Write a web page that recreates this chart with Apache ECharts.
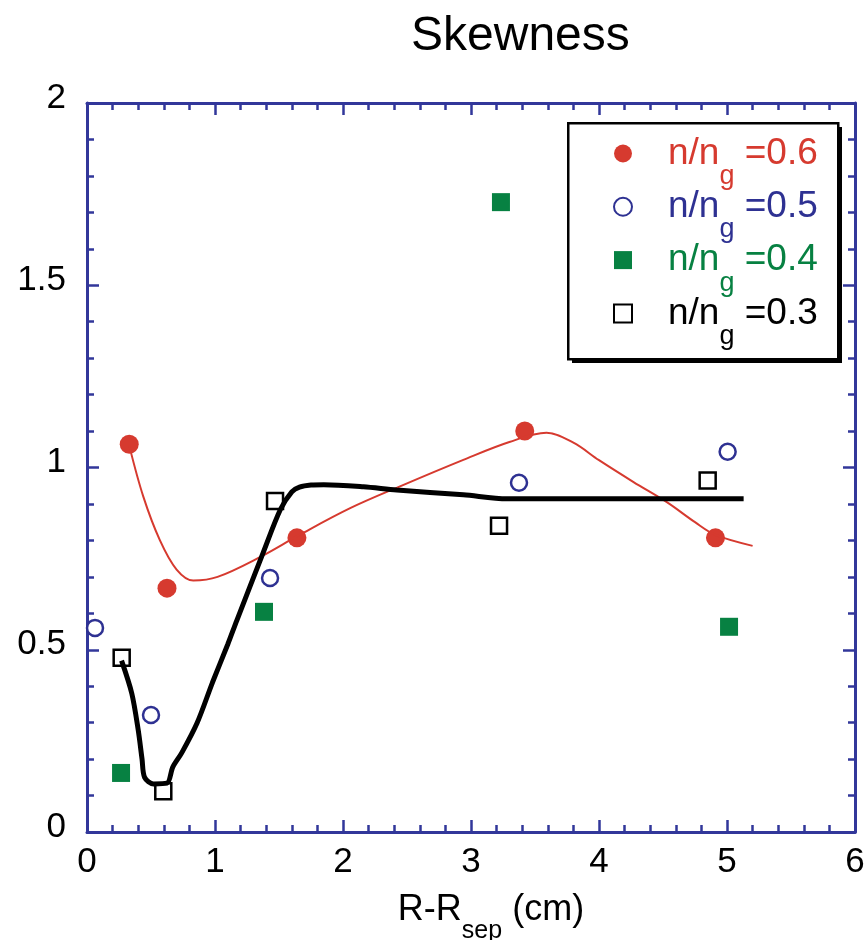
<!DOCTYPE html>
<html>
<head>
<meta charset="utf-8">
<script src="https://cdn.jsdelivr.net/npm/echarts@6/dist/echarts.min.js"></script>
<style>
html,body{margin:0;padding:0;background:#fff;}
#main{width:867px;height:940px;}
</style>
</head>
<body>
<div id="main"></div>
<script>
// ---- data ----
const xRed = [0.33, 0.625, 1.64, 3.42, 4.91];
const yRed = [1.064, 0.669, 0.807, 1.10, 0.807];
const xBlue = [0.0625, 0.50, 1.43, 3.375, 5.005];
const yBlue = [0.560, 0.321, 0.697, 0.958, 1.043];
const xGreen = [0.266, 1.383, 3.234, 5.016];
const yGreen = [0.162, 0.604, 1.728, 0.563];
const xBlack = [0.271, 0.596, 1.469, 3.219, 4.849];
const yBlack = [0.478, 0.112, 0.908, 0.840, 0.964];

// fitted curves
const xRedFit = [0.33, 0.44, 0.57, 0.70, 0.83, 1.02, 1.35, 1.66, 2.06, 2.45, 2.94, 3.30, 3.59, 3.80, 4.0, 4.27, 4.53, 4.75, 4.91, 5.2];
const yRedFit = [1.06, 0.92, 0.80, 0.72, 0.69, 0.70, 0.754, 0.815, 0.889, 0.949, 1.021, 1.070, 1.095, 1.068, 1.020, 0.960, 0.905, 0.850, 0.815, 0.785];
const xBlackFit = [0.27, 0.35, 0.40, 0.43, 0.45, 0.52, 0.625, 0.67, 0.74, 0.86, 0.98, 1.10, 1.17, 1.375, 1.51, 1.60, 1.66, 1.75, 1.85, 2.16, 2.42, 2.94, 3.28, 3.62, 5.13];
const yBlackFit = [0.47, 0.38, 0.28, 0.20, 0.15, 0.132, 0.134, 0.178, 0.217, 0.299, 0.410, 0.515, 0.580, 0.765, 0.884, 0.933, 0.946, 0.952, 0.953, 0.947, 0.938, 0.925, 0.914, 0.914, 0.914];

const xTicks = [0, 1, 2, 3, 4, 5, 6];
const yTicks = [0, 0.5, 1, 1.5, 2];
const seriesNames = ['n/ng =0.6', 'n/ng =0.5', 'n/ng =0.4', 'n/ng =0.3'];
const seriesValues = ['0.6', '0.5', '0.4', '0.3'];
const titleText = 'Skewness';

// ---- styling ----
const FONT = "'Liberation Sans', Arial, Helvetica, sans-serif";
const AXIS = '#32379a';
const RED = '#d63a2f';
const BLUE = '#2e3192';
const GREEN = '#078142';
const BLACK = '#000000';
const colors = [RED, BLUE, GREEN, BLACK];

function pairs(xs, ys) { return xs.map((x, i) => [x, ys[i]]); }

const rich = { p: { width: 31 } };
colors.forEach((c, i) => {
  rich['m' + i] = { color: c, fontSize: 37, lineHeight: 44, fontFamily: FONT };
  rich['s' + i] = { color: c, fontSize: 27, height: 0, lineHeight: 0, padding: [45, 0, 0, 0], verticalAlign: 'top', fontFamily: FONT };
});

function axisCommon(showLabel, isX) {
  return {
    type: 'value',
    axisLine: { show: true, onZero: false, lineStyle: { color: AXIS, width: 3 } },
    axisTick: { show: true, inside: true, length: 12, lineStyle: { color: AXIS, width: 2.5 } },
    minorTick: { show: true, splitNumber: 5, length: 7, lineStyle: { color: AXIS, width: 2.5 } },
    splitLine: { show: false },
    minorSplitLine: { show: false },
    axisLabel: showLabel ? (isX ? {
      fontSize: 35, color: '#000', fontFamily: FONT, margin: 13,
      formatter: v => xTicks.indexOf(v) >= 0 ? String(v) : ''
    } : {
      fontSize: 35, color: '#000', fontFamily: FONT, margin: 21,
      verticalAlign: 'bottom', lineHeight: 10,
      formatter: v => yTicks.indexOf(v) >= 0 ? String(v) : ''
    }) : { show: false }
  };
}

const chart = echarts.init(document.getElementById('main'), null, { renderer: 'canvas' });
chart.setOption({
  backgroundColor: '#ffffff',
  animation: false,
  title: {
    text: titleText, left: 406, top: 8,
    textStyle: { fontSize: 48, fontWeight: 'normal', color: '#000', fontFamily: FONT }
  },
  grid: { left: 87, right: 12, top: 103, bottom: 108, containLabel: false, outerBoundsMode: 'none' },
  xAxis: [
    Object.assign(axisCommon(true, true), {
      min: 0, max: 6, interval: 1, position: 'bottom',
      name: '{a|R-R}{s|sep}{a| (cm)}', nameLocation: 'middle', nameGap: 58,
      nameTextStyle: {
        padding: [0, 0, 0, 40],
        rich: {
          a: { fontSize: 36, lineHeight: 40, color: '#000', fontFamily: FONT },
          s: { fontSize: 25, height: 0, lineHeight: 0, padding: [41, 0, 0, 0], verticalAlign: 'top', color: '#000', fontFamily: FONT }
        }
      }
    }),
    Object.assign(axisCommon(false, true), { min: 0, max: 6, interval: 1, position: 'top' })
  ],
  yAxis: [
    Object.assign(axisCommon(true, false), { min: 0, max: 2, interval: 0.5, position: 'left' }),
    Object.assign(axisCommon(false, false), { min: 0, max: 2, interval: 0.5, position: 'right' })
  ],
  graphic: [
    { type: 'rect', left: 572, top: 127, z: 3, shape: { width: 270, height: 236 }, style: { fill: '#000' } },
    { type: 'rect', left: 567, top: 122, z: 3, shape: { width: 270, height: 236 }, style: { fill: '#fff', stroke: '#000', lineWidth: 2.5 } }
  ],
  legend: {
    data: seriesNames,
    orient: 'vertical',
    left: 613, top: 135,
    padding: 0,
    itemGap: -1.7,
    itemWidth: 18, itemHeight: 18,
    selectedMode: false,
    z: 10,
    textStyle: { fontFamily: FONT, rich: rich },
    formatter: function (name) {
      const i = seriesNames.indexOf(name);
      return '{p| }{m' + i + '|n/n}{s' + i + '|g}{m' + i + '| =' + seriesValues[i] + '}';
    }
  },
  series: [
    {
      name: seriesNames[0], type: 'scatter', symbol: 'circle', symbolSize: 19,
      itemStyle: { color: RED, opacity: 1 }, data: pairs(xRed, yRed), z: 3
    },
    {
      name: seriesNames[1], type: 'scatter', symbol: 'circle', symbolSize: 16,
      itemStyle: { color: '#fff', borderColor: BLUE, borderWidth: 2.5, opacity: 1 }, data: pairs(xBlue, yBlue), z: 3
    },
    {
      name: seriesNames[2], type: 'scatter', symbol: 'rect', symbolSize: 18,
      itemStyle: { color: GREEN, opacity: 1 }, data: pairs(xGreen, yGreen), z: 3
    },
    {
      name: seriesNames[3], type: 'scatter', symbol: 'rect', symbolSize: 16,
      itemStyle: { color: '#fff', borderColor: BLACK, borderWidth: 2.5, opacity: 1 }, data: pairs(xBlack, yBlack), z: 3
    },
    {
      name: 'fit0.6', type: 'line', smooth: 0.35, showSymbol: false, symbol: 'none',
      lineStyle: { color: RED, width: 2 }, data: pairs(xRedFit, yRedFit), z: 4
    },
    {
      name: 'fit0.3', type: 'line', smooth: 0.3, showSymbol: false, symbol: 'none',
      lineStyle: { color: BLACK, width: 5 }, data: pairs(xBlackFit, yBlackFit), z: 4
    }
  ]
});
</script>
</body>
</html>
